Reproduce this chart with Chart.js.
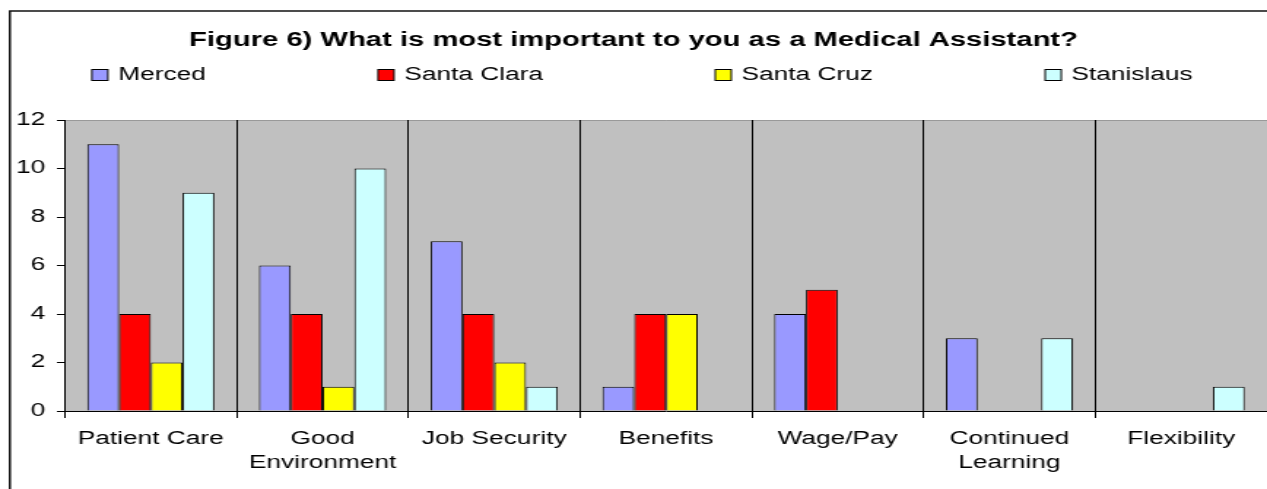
<!DOCTYPE html>
<html lang="en">
<head>
<meta charset="UTF-8">
<title>Figure 6</title>
<script src="https://cdn.jsdelivr.net/npm/chart.js"></script>
<style>
  html, body { margin: 0; padding: 0; background: #fff; overflow: hidden; }
</style>
</head>
<body>
<!-- drawn narrow and stretched sideways, like the original sheet export -->
<canvas id="myChart" width="868" height="489" style="width:1267px;height:489px;"></canvas>
<script>
    const categories = ['Patient Care', ['Good', 'Environment'], 'Job Security', 'Benefits', 'Wage/Pay', ['Continued', 'Learning'], 'Flexibility'];
    const merced     = [11, 6, 7, 1, 4, 3, 0];
    const santaClara = [4, 4, 4, 4, 5, 0, 0];
    const santaCruz  = [2, 1, 2, 4, 0, 0, 0];
    const stanislaus = [9, 10, 1, 0, 0, 3, 1];
    const yMin = 0, yMax = 12, yStep = 2;

    const FONT = '"Liberation Sans", Arial, sans-serif';
    Chart.defaults.font.family = FONT;
    Chart.defaults.color = '#000';

    // gray plot area, outer frame and the wide-spaced legend
    const sheet = {
        id: 'sheet',
        beforeDraw(chart) {
            const { ctx, chartArea: a } = chart;
            ctx.save();
            ctx.strokeStyle = '#000';
            ctx.lineWidth = 1.4;
            ctx.strokeRect(6.8, 11, chart.width + 20, chart.height + 20);
            ctx.fillStyle = '#c0c0c0';
            ctx.fillRect(a.left, a.top, a.right - a.left, a.bottom - a.top);
            ctx.strokeStyle = '#999';
            ctx.lineWidth = 1;
            ctx.beginPath();
            ctx.moveTo(a.left, a.top + 0.5);
            ctx.lineTo(a.right, a.top + 0.5);
            ctx.stroke();
            ctx.restore();
        },
        afterDraw(chart) {
            const ctx = chart.ctx;
            const sets = chart.data.datasets;
            ctx.save();
            ctx.font = '18px ' + FONT;
            ctx.textBaseline = 'middle';
            const box = 11, gap = 7, spread = 118, y = 75;
            const widths = sets.map(d => box + gap + ctx.measureText(d.label).width);
            const total = widths.reduce((s, w) => s + w, 0) + spread * (sets.length - 1);
            let x = (chart.width - total) / 2 + 6;
            sets.forEach((d, i) => {
                ctx.fillStyle = d.backgroundColor;
                ctx.fillRect(x, y - box / 2, box, box);
                ctx.strokeStyle = '#000';
                ctx.lineWidth = 1;
                ctx.strokeRect(x, y - box / 2, box, box);
                ctx.fillStyle = '#000';
                ctx.fillText(d.label, x + box + gap, y + 0.5);
                x += widths[i] + spread;
            });
            ctx.restore();
        }
    };

    function bars(label, data, color) {
        return {
            label: label,
            data: data,
            backgroundColor: color,
            borderColor: '#000',
            borderWidth: 1,
            barPercentage: 1,
            categoryPercentage: 0.74
        };
    }

    var ctx = document.getElementById('myChart').getContext('2d');
    var myChart = new Chart(ctx, {
        type: 'bar',
        data: {
            labels: categories,
            datasets: [
                bars('Merced', merced, '#9999ff'),
                bars('Santa Clara', santaClara, '#ff0000'),
                bars('Santa Cruz', santaCruz, '#ffff00'),
                bars('Stanislaus', stanislaus, '#ccffff')
            ]
        },
        plugins: [sheet],
        options: {
            responsive: false,
            animation: false,
            layout: { padding: 0 },
            plugins: {
                legend: { display: false },
                tooltip: { enabled: false },
                title: {
                    display: true,
                    text: 'Figure 6) What is most important to you as a Medical Assistant?',
                    color: '#000',
                    font: { size: 20, weight: 'bold', lineHeight: 1.2 },
                    padding: { top: 28, bottom: 68 }
                }
            },
            scales: {
                x: {
                    offset: true,
                    grid: { color: '#000', lineWidth: 1, tickLength: 7, drawOnChartArea: true },
                    border: { color: '#000', width: 1 },
                    ticks: { font: { size: 18, lineHeight: 1.33 }, padding: 9, maxRotation: 0, autoSkip: false },
                    afterFit(s) { s.height = 78; }
                },
                y: {
                    min: yMin,
                    max: yMax,
                    ticks: { stepSize: yStep, font: { size: 18 }, padding: 8 },
                    grid: { color: '#000', drawOnChartArea: false, tickLength: 5.5 },
                    border: { color: '#000', width: 1 },
                    afterFit(s) { s.width = 44.5; }
                }
            }
        }
    });
</script>
</body>
</html>
